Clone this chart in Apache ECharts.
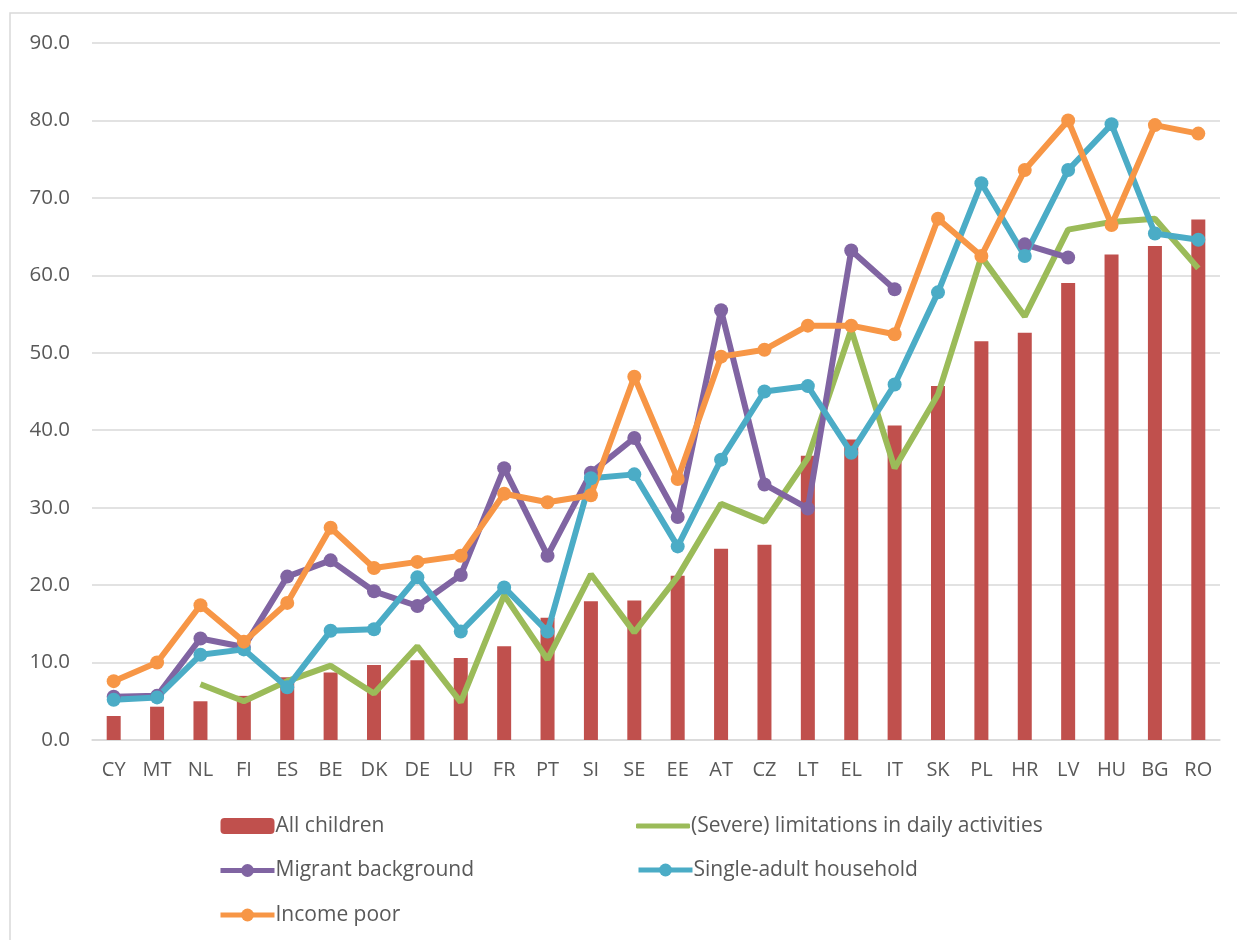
<!DOCTYPE html>
<html>
<head>
<meta charset="utf-8">
<script src="https://cdn.jsdelivr.net/npm/echarts@6/dist/echarts.min.js"></script>
<style>
  html, body { margin: 0; padding: 0; background: #fff; }
  #chart { width: 1237px; height: 940px; }
</style>
</head>
<body>
<div id="chart"></div>
<script>
// countries, sorted by share of all children
const countries = ['CY', 'MT', 'NL', 'FI', 'ES', 'BE', 'DK', 'DE', 'LU', 'FR', 'PT', 'SI', 'SE',
  'EE', 'AT', 'CZ', 'LT', 'EL', 'IT', 'SK', 'PL', 'HR', 'LV', 'HU', 'BG', 'RO']

const allChildren = [3.1, 4.3, 5.0, 5.7, 8.1, 8.7, 9.7, 10.3, 10.6, 12.1, 15.8, 17.9, 18.0,
  21.2, 24.7, 25.2, 36.7, 38.8, 40.6, 45.7, 51.5, 52.6, 59.0, 62.7, 63.8, 67.2]

const limitations = [null, null, 7.2, 5.0, 7.6, 9.6, 6.0, 12.1, 4.9, 18.7, 10.4, 21.4, 13.9,
  21.1, 30.5, 28.2, 36.4, 53.0, 35.1, 44.6, 62.4, 54.7, 65.9, 66.9, 67.3, 60.9]

const migrant = [5.6, 5.7, 13.1, 12.0, 21.1, 23.2, 19.2, 17.3, 21.3, 35.1, 23.8, 34.5, 39.0,
  28.8, 55.5, 33.0, 29.9, 63.2, 58.2, null, null, 64.0, 62.3, null, null, null]

const singleAdult = [5.2, 5.5, 11.0, 11.7, 6.8, 14.1, 14.3, 21.0, 14.0, 19.7, 14.0, 33.8, 34.3,
  25.0, 36.2, 45.0, 45.7, 37.1, 45.9, 57.8, 71.9, 62.5, 73.6, 79.5, 65.4, 64.6]

const incomePoor = [7.6, 10.0, 17.4, 12.7, 17.7, 27.4, 22.2, 23.0, 23.8, 31.8, 30.7, 31.6, 46.9,
  33.7, 49.5, 50.4, 53.5, 53.5, 52.4, 67.3, 62.5, 73.6, 80.0, 66.5, 79.4, 78.3]

const font = 'Open Sans'
const textColor = '#595959'

function lineSeries(name, data, color, withDots) {
  return {
    name,
    type: 'line',
    data,
    connectNulls: false,
    symbol: withDots ? 'circle' : 'none',
    showSymbol: withDots,
    symbolSize: 14,
    lineStyle: { width: 6, color },
    itemStyle: { color },
    emphasis: { disabled: true }
  }
}

const chart = echarts.init(document.getElementById('chart'))

const legendBase = {
  orient: 'vertical',
  itemWidth: 54,
  itemHeight: 16,
  itemGap: 20.5,
  lineStyle: { width: 5 },
  textStyle: {
    fontFamily: font, fontSize: 21, lineHeight: 24, color: textColor,
    padding: [0, 0, 0, -4]
  }
}

chart.setOption({
  animation: false,
  graphic: [
    {
      type: 'polyline',
      shape: { points: [[10, 940], [10, 13], [1237, 13]] },
      style: { stroke: '#d9d9d9', lineWidth: 1.5, fill: null }
    }
  ],
  grid: { left: 92, right: 17, top: 43, bottom: 200 },
  legend: [
    Object.assign({}, legendBase, {
      left: 213, top: 809,
      data: ['All children', 'Migrant background', 'Income poor']
    }),
    Object.assign({}, legendBase, {
      left: 631, top: 853,
      data: ['Single-adult household']
    }),
    Object.assign({}, legendBase, {
      left: 631, top: 809,
      itemHeight: 5,
      icon: 'roundRect',
      data: ['(Severe) limitations in daily activities']
    })
  ],
  xAxis: {
    type: 'category',
    data: countries,
    axisLine: { lineStyle: { color: '#d9d9d9', width: 1.5 } },
    axisTick: { show: false },
    axisLabel: { fontFamily: font, fontSize: 20, color: textColor, margin: 20, interval: 0 }
  },
  yAxis: {
    type: 'value',
    min: 0,
    max: 90,
    interval: 10,
    axisLine: { show: false },
    axisTick: { show: false },
    splitLine: { lineStyle: { color: '#d9d9d9', width: 1.5 } },
    axisLabel: {
      fontFamily: font, fontSize: 20.5, color: textColor, margin: 22,
      formatter: v => v.toFixed(1)
    }
  },
  series: [
    {
      name: 'All children',
      type: 'bar',
      data: allChildren,
      barWidth: 14,
      itemStyle: { color: '#C0504D' },
      emphasis: { disabled: true }
    },
    lineSeries('(Severe) limitations in daily activities', limitations, '#9BBB59', false),
    lineSeries('Migrant background', migrant, '#8064A2', true),
    lineSeries('Single-adult household', singleAdult, '#4BACC6', true),
    lineSeries('Income poor', incomePoor, '#F79646', true)
  ]
})
</script>
</body>
</html>
